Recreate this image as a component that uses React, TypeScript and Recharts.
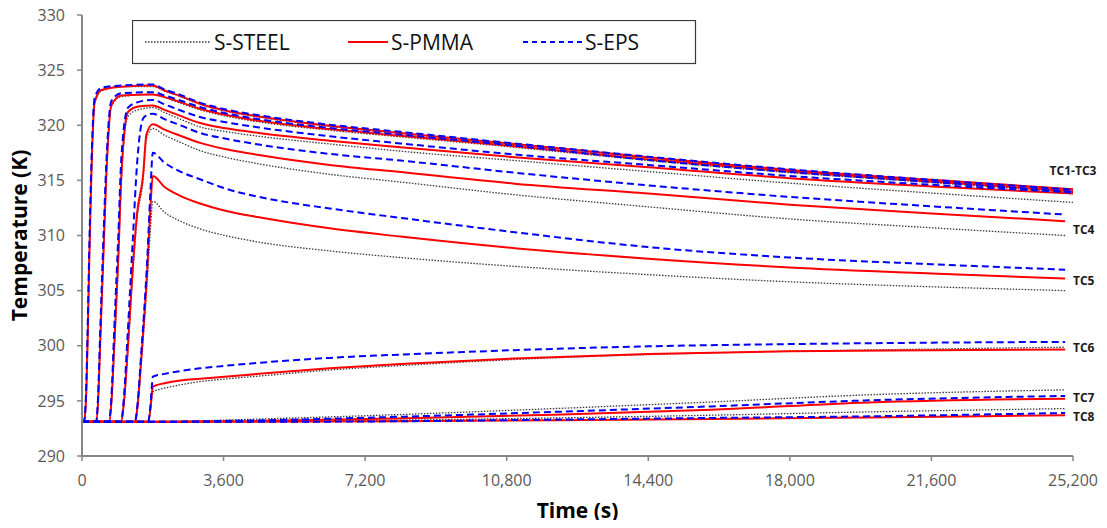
import React from 'react';
import { LineChart, Line, XAxis, YAxis, Legend, ReferenceDot } from 'recharts';

// axis ticks
const xTicks = [0, 3600, 7200, 10800, 14400, 18000, 21600, 25200];
const yTicks = [290, 295, 300, 305, 310, 315, 320, 325, 330];

// cooling phase times (s), after the heater stops at 1800 s
const coolTimesTC13 = [2100, 2500, 3000, 3700, 4500, 6300, 8100, 11000, 14400, 18000, 21600, 25200];
const coolTimesTC48 = [2100, 2500, 3000, 3700, 4500, 6300, 8100, 11000, 14400, 18000, 21600, 25000];

// TC1
const tc1Times = [0, 50, 100, 140, 186, 237, 323, 491, 1000, 1800, ...coolTimesTC13];
const tc1Steel = [293.1, 293.1, 295, 300, 308, 315.2, 322.0, 323.1, 323.5, 323.5, 323.1, 322.6, 321.9, 321.25, 320.75, 319.9, 319.25, 318.25, 317.05, 315.9, 315.0, 314.1];
const tc1Pmma = [293.1, 293.1, 295, 300, 308, 315.4, 322.1, 323.2, 323.5, 323.6, 323.15, 322.65, 321.95, 321.3, 320.8, 319.95, 319.3, 318.3, 317.1, 315.95, 315.05, 314.2];
const tc1Eps = [293.1, 293.1, 295.5, 301, 309, 316.2, 322.5, 323.4, 323.6, 323.7, 323.25, 322.75, 322.05, 321.4, 320.9, 320.05, 319.4, 318.35, 317.15, 316.0, 315.05, 314.15];

// TC2
const tc2Times = [0, 356, 410, 460, 542, 618, 745, 1000, 1800, ...coolTimesTC13];
const tc2Steel = [293.1, 293.1, 295, 299.8, 307.8, 315.2, 321.7, 322.6, 322.8, 322.5, 322.0, 321.4, 320.8, 320.3, 319.55, 318.95, 318.0, 316.8, 315.7, 314.8, 313.9];
const tc2Pmma = [293.1, 293.1, 295, 300, 308, 315.4, 321.8, 322.7, 322.8, 322.55, 322.1, 321.5, 320.9, 320.4, 319.65, 319.05, 318.1, 316.9, 315.8, 314.9, 314.0];
const tc2Eps = [293.1, 293.1, 295.5, 301, 309.5, 316.5, 322.2, 322.9, 323.0, 322.7, 322.25, 321.65, 321.05, 320.55, 319.75, 319.15, 318.15, 316.85, 315.75, 314.85, 313.95];

// TC3
const tc3Times = [0, 687, 750, 820, 923, 1000, 1170, 1425, 1800, ...coolTimesTC13];
const tc3Steel = [293.1, 293.1, 294.8, 299.5, 307.5, 314.8, 320.8, 321.4, 321.6, 321.15, 320.55, 319.85, 319.4, 319.0, 318.3, 317.65, 316.8, 315.8, 314.75, 313.85, 313.0];
const tc3Pmma = [293.1, 293.1, 295, 300, 308, 315.4, 321.2, 321.7, 321.8, 321.4, 320.85, 320.2, 319.7, 319.3, 318.6, 318.0, 317.1, 316.2, 315.2, 314.45, 313.8];
const tc3Eps = [293.1, 293.1, 295.5, 301.5, 310, 317, 321.6, 322.1, 322.3, 321.9, 321.35, 320.75, 320.25, 319.8, 319.0, 318.35, 317.35, 316.4, 315.4, 314.6, 313.9];

// TC4
const tc4Times = [0, 992, 1070, 1160, 1290, 1400, 1552, 1640, 1800, ...coolTimesTC48];
const tc4Steel = [293.1, 293.1, 294.8, 299, 306.5, 311.5, 315, 318.8, 319.7, 319.1, 318.45, 317.7, 317.05, 316.5, 315.55, 314.85, 313.7, 312.6, 311.5, 310.7, 310.0];
const tc4Pmma = [293.1, 293.1, 295, 299.5, 307, 312, 315.4, 319.2, 320.1, 319.6, 319.05, 318.4, 317.8, 317.3, 316.4, 315.75, 314.7, 313.8, 312.8, 312.0, 311.3];
const tc4Eps = [293.1, 293.1, 295.5, 301, 309.5, 316.5, 320.6, 320.9, 321.05, 320.55, 320.0, 319.3, 318.75, 318.25, 317.4, 316.8, 315.7, 314.55, 313.5, 312.65, 311.9];

// TC5
const tc5Times = [0, 1348, 1420, 1500, 1661, 1740, 1800, ...coolTimesTC48];
const tc5Steel = [293.1, 293.1, 294.7, 298, 306, 310.5, 313.1, 312.1, 311.3, 310.6, 309.95, 309.4, 308.6, 308.0, 307.2, 306.45, 305.8, 305.35, 305.0];
const tc5Pmma = [293.1, 293.1, 294.8, 298.5, 307, 312.5, 315.4, 314.4, 313.6, 312.9, 312.2, 311.65, 310.65, 309.9, 308.85, 307.9, 307.1, 306.55, 306.1];
const tc5Eps = [293.1, 293.1, 295, 299, 308, 314, 317.5, 316.6, 315.8, 315.1, 314.2, 313.5, 312.45, 311.6, 310.3, 308.95, 308.0, 307.4, 306.9];

// TC6
const tc6Times = [0, 1679, 1740, 1780, 1800, ...coolTimesTC48];
const tc6Steel = [293.1, 293.1, 294.2, 295.3, 295.8, 296.15, 296.45, 296.75, 297.0, 297.25, 297.8, 298.2, 298.75, 299.2, 299.5, 299.7, 299.87];
const tc6Pmma = [293.1, 293.1, 294.3, 295.8, 296.3, 296.6, 296.85, 297.0, 297.2, 297.45, 297.95, 298.35, 298.85, 299.25, 299.5, 299.6, 299.65];
const tc6Eps = [293.1, 293.1, 294.5, 296.5, 297.2, 297.45, 297.7, 297.95, 298.2, 298.45, 298.9, 299.2, 299.6, 299.95, 300.15, 300.28, 300.35];

// TC7 / TC8
const tc78Times = [0, 1800, 4000, 8000, 12000, 16000, 20000, 25000];
const tc7Steel = [293.1, 293.1, 293.3, 293.75, 294.3, 294.9, 295.55, 296.0];
const tc7Pmma = [293.1, 293.1, 293.15, 293.4, 293.75, 294.2, 294.85, 295.2];
const tc7Eps = [293.1, 293.1, 293.2, 293.55, 294.0, 294.5, 295.05, 295.45];
const tc8Steel = [293.1, 293.1, 293.15, 293.25, 293.45, 293.7, 294.0, 294.3];
const tc8Pmma = [293.1, 293.1, 293.1, 293.15, 293.25, 293.35, 293.5, 293.7];
const tc8Eps = [293.1, 293.1, 293.1, 293.15, 293.3, 293.45, 293.6, 293.9];

// end-of-curve labels
const tcLabels = [
  { text: 'TC1-TC3', t: 25200, temp: 315.85, pos: 'center' },
  { text: 'TC4', t: 25200, temp: 310.55, pos: 'right' },
  { text: 'TC5', t: 25200, temp: 305.9, pos: 'right' },
  { text: 'TC6', t: 25200, temp: 299.8, pos: 'right' },
  { text: 'TC7', t: 25200, temp: 295.25, pos: 'right' },
  { text: 'TC8', t: 25200, temp: 293.6, pos: 'right' },
];

const FONT = "'Open Sans', sans-serif";

const styles: Record<string, { stroke: string; width: number; dash?: string }> = {
  steel: { stroke: '#3a3a3a', width: 1.3, dash: '1.5 1.5' },
  pmma: { stroke: '#ff0000', width: 2 },
  eps: { stroke: '#0000ff', width: 2, dash: '7 4' },
};

const toPoints = (times: number[], temps: number[]) => times.map((t, i) => ({ t, v: temps[i] }));

// draw order: steel below, then PMMA, EPS on top
const series = [
  { id: 'tc1-steel', mat: 'steel', data: toPoints(tc1Times, tc1Steel) },
  { id: 'tc2-steel', mat: 'steel', data: toPoints(tc2Times, tc2Steel) },
  { id: 'tc3-steel', mat: 'steel', data: toPoints(tc3Times, tc3Steel) },
  { id: 'tc4-steel', mat: 'steel', data: toPoints(tc4Times, tc4Steel) },
  { id: 'tc5-steel', mat: 'steel', data: toPoints(tc5Times, tc5Steel) },
  { id: 'tc6-steel', mat: 'steel', data: toPoints(tc6Times, tc6Steel) },
  { id: 'tc7-steel', mat: 'steel', data: toPoints(tc78Times, tc7Steel) },
  { id: 'tc8-steel', mat: 'steel', data: toPoints(tc78Times, tc8Steel) },
  { id: 'tc1-pmma', mat: 'pmma', data: toPoints(tc1Times, tc1Pmma) },
  { id: 'tc2-pmma', mat: 'pmma', data: toPoints(tc2Times, tc2Pmma) },
  { id: 'tc3-pmma', mat: 'pmma', data: toPoints(tc3Times, tc3Pmma) },
  { id: 'tc4-pmma', mat: 'pmma', data: toPoints(tc4Times, tc4Pmma) },
  { id: 'tc5-pmma', mat: 'pmma', data: toPoints(tc5Times, tc5Pmma) },
  { id: 'tc6-pmma', mat: 'pmma', data: toPoints(tc6Times, tc6Pmma) },
  { id: 'tc7-pmma', mat: 'pmma', data: toPoints(tc78Times, tc7Pmma) },
  { id: 'tc8-pmma', mat: 'pmma', data: toPoints(tc78Times, tc8Pmma) },
  { id: 'tc1-eps', mat: 'eps', data: toPoints(tc1Times, tc1Eps) },
  { id: 'tc2-eps', mat: 'eps', data: toPoints(tc2Times, tc2Eps) },
  { id: 'tc3-eps', mat: 'eps', data: toPoints(tc3Times, tc3Eps) },
  { id: 'tc4-eps', mat: 'eps', data: toPoints(tc4Times, tc4Eps) },
  { id: 'tc5-eps', mat: 'eps', data: toPoints(tc5Times, tc5Eps) },
  { id: 'tc6-eps', mat: 'eps', data: toPoints(tc6Times, tc6Eps) },
  { id: 'tc7-eps', mat: 'eps', data: toPoints(tc78Times, tc7Eps) },
  { id: 'tc8-eps', mat: 'eps', data: toPoints(tc78Times, tc8Eps) },
];

const legendItems = [
  { label: 'S-STEEL', mat: 'steel', x1: 13, x2: 79, tx: 82 },
  { label: 'S-PMMA', mat: 'pmma', x1: 216, x2: 256, tx: 259 },
  { label: 'S-EPS', mat: 'eps', x1: 391, x2: 452, tx: 453 },
];

const renderLegend = () => (
  <svg width={565} height={45}>
    <rect x={0.5} y={0.5} width={563} height={43} fill="#fff" stroke="#3a3a3a" strokeWidth={1.2} />
    {legendItems.map((it) => (
      <g key={it.label}>
        <line
          x1={it.x1}
          x2={it.x2}
          y1={22}
          y2={22}
          stroke={styles[it.mat].stroke}
          strokeWidth={styles[it.mat].width}
          strokeDasharray={it.mat === 'eps' ? '5 4' : styles[it.mat].dash}
        />
        <text x={it.tx} y={30} fontFamily={FONT} fontSize={21} fill="#111">
          {it.label}
        </text>
      </g>
    ))}
  </svg>
);

const axisColor = '#868686';

export default function App() {
  return (
    <div style={{ margin: -8, width: 1107, height: 528, background: '#fff' }}>
      <LineChart width={1107} height={528} margin={{ top: 15, right: 34, bottom: 0, left: 0 }}>
        <XAxis
          dataKey="t"
          type="number"
          domain={[0, 25200]}
          ticks={xTicks}
          interval={0}
          height={72}
          axisLine={{ stroke: axisColor, strokeWidth: 2 }}
          tickLine={{ stroke: axisColor, strokeWidth: 1.5 }}
          tickSize={5}
          tickMargin={14}
          tick={{ fill: '#595959', fontSize: 16, fontFamily: FONT }}
          tickFormatter={(v: number) => v.toLocaleString('en-US')}
          label={{ value: 'Time (s)', position: 'insideBottom', offset: 10, fill: '#000', fontSize: 21, fontWeight: 700, fontFamily: FONT }}
        />
        <YAxis
          type="number"
          domain={[290, 330]}
          ticks={yTicks}
          interval={0}
          width={82}
          axisLine={{ stroke: axisColor, strokeWidth: 2 }}
          tickLine={{ stroke: axisColor, strokeWidth: 1.5 }}
          tickSize={5}
          tickMargin={12}
          tick={{ fill: '#595959', fontSize: 16, fontFamily: FONT }}
          label={{
            value: 'Temperature (K)',
            angle: -90,
            position: 'insideLeft',
            offset: 20,
            style: { textAnchor: 'middle' },
            fill: '#000',
            fontSize: 21,
            fontWeight: 700,
            fontFamily: FONT,
          }}
        />
        <Legend
          layout="horizontal"
          verticalAlign="middle"
          align="center"
          content={renderLegend}
          wrapperStyle={{ left: 132, top: 20, width: 565, height: 45 }}
        />
        {series.map((s) => (
          <Line
            key={s.id}
            data={s.data}
            dataKey="v"
            type="monotone"
            stroke={styles[s.mat].stroke}
            strokeWidth={styles[s.mat].width}
            strokeDasharray={styles[s.mat].dash}
            dot={false}
            activeDot={false}
            legendType="none"
            isAnimationActive={false}
          />
        ))}
        {tcLabels.map((l) => (
          <ReferenceDot
            key={l.text}
            x={l.t}
            y={l.temp}
            r={0}
            fill="none"
            stroke="none"
            ifOverflow="visible"
            label={{ value: l.text, position: l.pos, offset: 0, fill: '#1a1a1a', fontSize: 12, fontWeight: 700, fontFamily: FONT }}
          />
        ))}
      </LineChart>
    </div>
  );
}
